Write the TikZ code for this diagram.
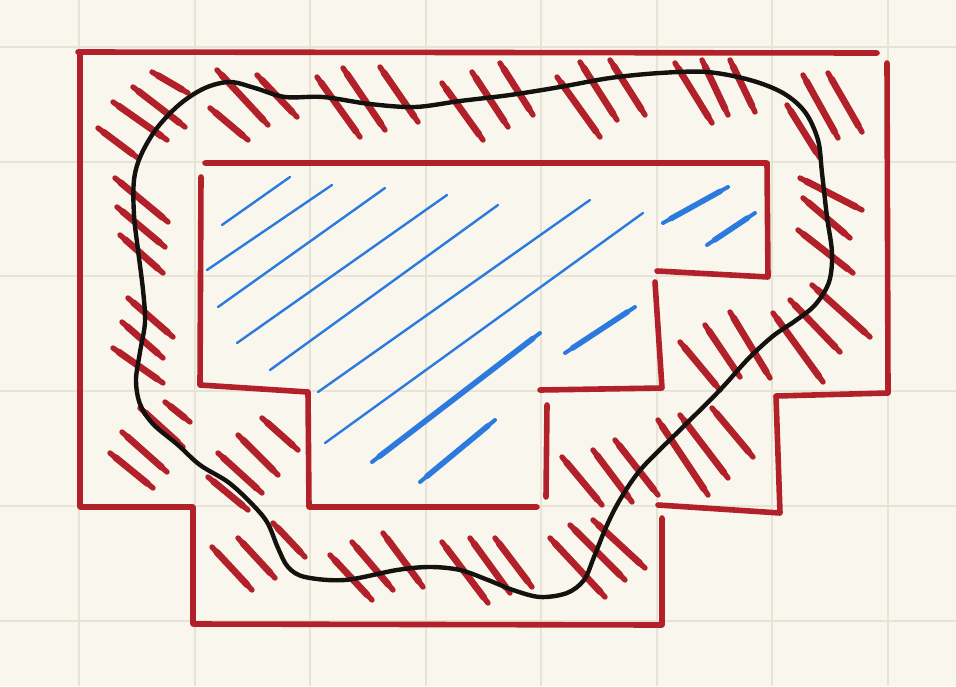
\documentclass[tikz,border=0pt]{standalone}
\definecolor{paper}{RGB}{249,247,237}
\definecolor{gridc}{RGB}{231,228,214}
\definecolor{redink}{RGB}{178,32,42}
\definecolor{blueink}{RGB}{45,122,222}
\definecolor{blackink}{RGB}{20,18,15}
\begin{document}
\begin{tikzpicture}[x=1pt,y=-1pt,
  outline/.style={draw=redink,line width=5.6pt,line cap=round,line join=round},
  hatch/.style={draw=redink,line width=5.4pt,line cap=round},
  hatchcore/.style={draw=redink,line width=6.8pt,line cap=round,shorten >=7pt,shorten <=7pt},
  bthin/.style={draw=blueink,line width=2.4pt,line cap=round},
  bthick/.style={draw=blueink,line width=4pt,line cap=round},
  bcore/.style={draw=blueink,line width=5.6pt,line cap=round,shorten >=9pt,shorten <=9pt},
  gridline/.style={draw=gridc,line width=1.8pt},
  blob/.style={draw=blackink,line width=4.4pt}]
\fill[paper] (0,0) rectangle (956,686);
\useasboundingbox (0,0) rectangle (956,686);
% grid
\foreach \x in {79,195,310,426,541,657,772,888} \draw[gridline] (\x,0) -- (\x,686);
\foreach \y in {47,162,276,391,506,621} \draw[gridline] (0,\y) -- (956,\y);
% blue hatching
\foreach \a/\b/\c/\d in {222/225/290/177, 207/270/332/185, 218/307/385/188,
  237/343/447/195, 270/370/498/205, 318/392/590/200, 325/443/643/213}
  \draw[bthin] (\a,\b) -- (\c,\d);
\foreach \a/\b/\c/\d in {372/462/540/333, 420/482/495/420, 565/353/635/307,
  663/223/728/187, 707/245/755/213}
  {\draw[bthick] (\a,\b) -- (\c,\d); \draw[bcore] (\a,\b) -- (\c,\d);}
% red hatching
\foreach \a/\b/\c/\d in {152/72/188/93, 133/87/185/127, 113/102/167/140, 98/128/138/158,
  217/70/268/125, 210/108/248/140, 257/75/297/117, 317/77/360/137, 343/68/385/130,
  380/67/418/122, 442/83/483/140, 472/72/508/127, 500/63/533/115, 557/77/600/137,
  580/62/617/120, 610/60/645/115, 675/63/712/123, 702/60/728/115, 730/60/755/112,
  803/75/838/138, 828/73/862/132, 787/105/820/158,
  800/178/862/210, 803/198/850/238, 798/230/853/273, 812/285/870/337,
  790/300/840/352, 773/313/823/382, 730/312/770/378, 705/325/740/377, 680/342/720/390,
  712/408/753/457, 680/415/728/478, 658/420/708/495, 615/440/658/495, 593/450/632/502,
  562/457/602/505, 593/520/645/568, 570/525/625/580, 550/538/605/597,
  495/538/532/587, 470/538/510/593, 442/542/488/603, 383/533/423/587, 352/542/393/590,
  330/555/372/600, 273/523/305/557, 238/538/275/578, 212/547/252/590,
  262/418/298/450, 238/435/278/475, 218/453/262/493, 208/477/248/510,
  165/402/190/422, 140/408/183/447, 122/432/167/472, 110/453/153/488,
  113/348/163/383, 122/322/163/358, 128/298/173/337, 120/235/163/273,
  117/207/165/247, 115/178/168/222}
  {\draw[hatch] (\a,\b) -- (\c,\d); \draw[hatchcore] (\a,\b) -- (\c,\d);}
% black closed curve
\draw[blob] plot[smooth cycle,tension=0.55] coordinates {
  (134,180) (141,155) (157,128) (180,104) (205,88) (230,82) (255,88)
  (285,97) (323,97) (370,104) (415,107) (460,101) (510,95)
  (560,87) (610,78) (660,73) (707,72) (750,80) (783,93) (805,112) (818,140)
  (822,173) (827,217) (832,253) (829,282) (815,305) (795,321) (773,336)
  (748,359) (720,390) (683,427) (642,468) (621,498) (607,525) (594,557)
  (584,580) (567,593) (540,597) (513,590) (488,580) (460,570) (430,567)
  (397,570) (345,580) (305,577) (288,567) (278,548) (267,522) (250,502)
  (228,482) (200,465) (178,445) (153,424) (140,404) (136,380)
  (140,352) (145,322) (143,290) (138,250) (134,215)};
% outer red outline
\draw[outline] (78,52) -- (877,53);
\draw[outline] (80,53) -- (80,507) -- (193,507) -- (193,624) -- (662,625) -- (662,518);
\draw[outline] (887,63) -- (888,393) -- (776,396) -- (780,513) -- (658,505);
% inner red outline
\draw[outline] (205,163) -- (767,163) -- (768,277) -- (657,271);
\draw[outline] (655,282) -- (662,388) -- (540,390);
\draw[outline] (547,405) -- (546,497);
\draw[outline] (201,177) -- (200,385) -- (308,392) -- (309,507) -- (537,507);
\end{tikzpicture}
\end{document}
